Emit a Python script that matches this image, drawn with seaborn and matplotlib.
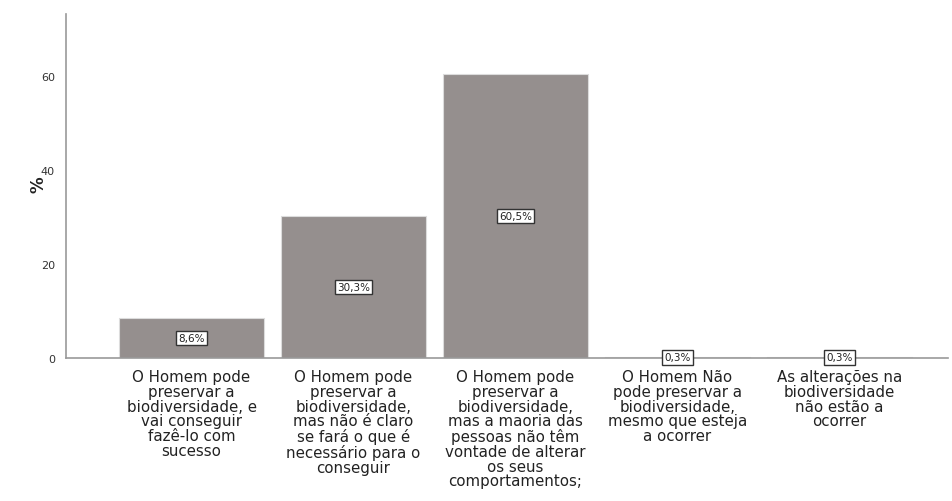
import matplotlib
matplotlib.use("Agg")
import matplotlib.pyplot as plt
import seaborn as sns
import pandas as pd

categories = [
    "O Homem pode\npreservar a\nbiodiversidade, e\nvai conseguir\nfazê-lo com\nsucesso",
    "O Homem pode\npreservar a\nbiodiversidade,\nmas não é claro\nse fará o que é\nnecessário para o\nconseguir",
    "O Homem pode\npreservar a\nbiodiversidade,\nmas a maoria das\npessoas não têm\nvontade de alterar\nos seus\ncomportamentos;",
    "O Homem Não\npode preservar a\nbiodiversidade,\nmesmo que esteja\na ocorrer",
    "As alterações na\nbiodiversidade\nnão estão a\nocorrer",
]
values = [8.6, 30.3, 60.5, 0.3, 0.3]
value_labels = ["8,6%", "30,3%", "60,5%", "0,3%", "0,3%"]
yticks = [0, 20, 40, 60]

sns.set_theme(style="white")
plt.rcParams['font.family'] = ['DejaVu Sans']

df = pd.DataFrame({"cat": categories, "pct": values})

fig = plt.figure(figsize=(9.52, 5.02), dpi=100)
ax = fig.add_axes([66/952, 1 - 359/502, (948-66)/952, (359-15)/502])

sns.barplot(data=df, x="cat", y="pct", color="#958f8e", saturation=1,
            width=0.895, edgecolor="#dcdcdc", linewidth=0.8, ax=ax)

ax.set_xlim(-0.775, 4.67)
ax.set_ylim(0, 73.2)
ax.set_yticks(yticks)
ax.set_yticklabels([str(t) for t in yticks], fontsize=8, color="#333333")
ax.tick_params(axis="y", length=0, pad=8)
ax.tick_params(axis="x", length=0, pad=8)
for lab in ax.get_xticklabels():
    lab.set_fontsize(10.8)
    lab.set_color("#222222")
    lab.set_linespacing(0.98)
    lab.set_verticalalignment("top")

ax.set_xlabel("")
ax.set_ylabel("%", fontsize=12, fontweight="bold", color="#222222")
ax.yaxis.set_label_coords(-0.021, 0.506)

for s in ["top", "right"]:
    ax.spines[s].set_visible(False)
for s in ["left", "bottom"]:
    ax.spines[s].set_color("#999999")
    ax.spines[s].set_linewidth(1.2)

for i, (v, lbl) in enumerate(zip(values, value_labels)):
    ax.text(i, v / 2, lbl, ha="center", va="center", fontsize=7.5, color="#222222",
            bbox=dict(boxstyle="square,pad=0.22", facecolor="white",
                      edgecolor="#333333", linewidth=1))

fig.savefig("out.png", dpi=100)
